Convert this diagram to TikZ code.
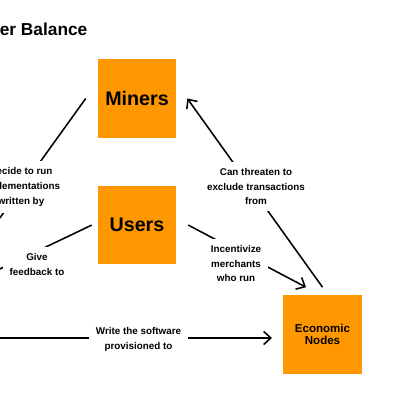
\documentclass[tikz,border=0pt]{standalone}
\usepackage{fontspec}
\setmainfont{Liberation Sans}
\usetikzlibrary{arrows.meta,positioning,calc}
\definecolor{boxorange}{HTML}{FF9800}

\begin{document}
\begin{tikzpicture}[
    x=0.025cm, y=-0.025cm,
    box/.style={fill=boxorange, minimum width=1.95cm, minimum height=1.95cm, inner sep=0pt, align=center},
    lbl/.style={fill=white, inner xsep=5pt, inner ysep=4.5pt, align=center, font=\bfseries\fontsize{7}{10.6}\selectfont},
    lnk/.style={line width=1.1pt},
    arr/.style={lnk, -{Straight Barb[length=1.8mm, width=3.3mm, line width=1.1pt]}}
  ]
    \useasboundingbox (0,0) rectangle (400,400);
    \clip (0,0) rectangle (400,400);
    \node[anchor=base west, inner sep=0pt, font=\bfseries\fontsize{12.3}{14}\selectfont] (title) at (-36,35.5) {Power Balance};
    \node[box, font=\bfseries\fontsize{14}{16}\selectfont] (miners) at (137,98.5) {Miners};
    \node[box, font=\bfseries\fontsize{14}{16}\selectfont, below=1.2cm of miners] (users) {Users};
    \node[box, font=\bfseries\fontsize{8.2}{8.6}\selectfont] (econ) at (322.5,334.5) {Economic\\Nodes};
    % off-picture ends on the left
    \coordinate (devtop) at (-52,290);
    \coordinate (devmid) at (-40,288);
    \coordinate (devlow) at (-40,338);
    \draw[arr] ($(miners.west)+(-12,0)$) -- (devtop);
    \draw[arr] ($(users.west)+(-6,0)$) -- (devmid);
    \draw[arr] ($(econ.north)+(0,-8)$) -- ($(miners.east)+(11,0)$);
    \draw[arr] ($(users.east)+(12,0)$) -- ($(econ.north)+(-16.5,-8)$);
    \draw[arr, shorten >=8pt] (devlow) -- ($(econ.west)+(0,3.5)$);
    \node[lbl] (decide) at (21,187) {Decide to run\\implementations\\written by};
    \node[lbl] (give) at (37,264.5) {Give\\feedback to};
    \node[lbl] (threat) at (256,186.5) {Can threaten to\\exclude transactions\\from};
    \node[lbl] (incent) at (236,263.5) {Incentivize\\merchants\\who run};
    \node[lbl] (write) at (138.5,339) {Write the software\\provisioned to};
  \end{tikzpicture}
\end{document}
